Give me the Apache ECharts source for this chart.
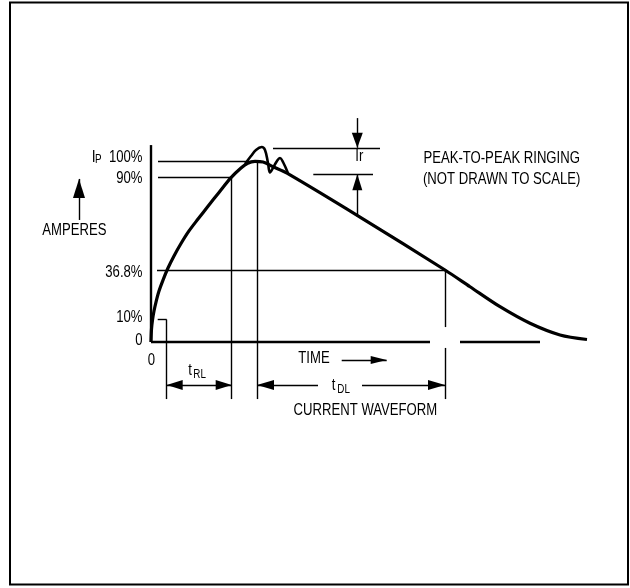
<!DOCTYPE html>
<html>
<head>
<meta charset="utf-8">
<title>Current waveform</title>
<script src="https://cdn.jsdelivr.net/npm/echarts@6/dist/echarts.min.js"></script>
<style>
  html, body { margin: 0; padding: 0; background: #fff; }
  #main { width: 630px; height: 588px; }
</style>
</head>
<body>
<div id="main"></div>
<script>
// time in arbitrary units, current as drawn height (100 = peak)
const curveT = [0, 0.25, 0.75, 1.5, 2.5, 4, 6, 8.5, 11.5, 15, 19, 23.5, 28.5, 34, 40, 45, 48.35, 52, 56, 61, 68, 104.5, 147, 159.5, 174.5, 189.5, 204.5, 218];
const curveI = [0, 7.2, 12.2, 17.2, 22.2, 28.3, 34.4, 41.1, 47.8, 54.7, 61.7, 68.3, 75.4, 83.1, 91.3, 96.7, 99.3, 100.3, 100, 97.4, 93.8, 69.4, 40, 30.7, 19.6, 10.4, 3.9, 1.4];

// ringing on top of the peak
const ringT = [47, 50, 52.5, 55.35, 57, 58.5, 59.5, 61, 63, 64.5, 66, 68.5];
const ringI = [98.9, 103.3, 106.7, 108.3, 106.7, 99.4, 94.2, 96.7, 100.6, 102.2, 100, 93.8];

// level marks on the current axis (drawn height) and their labels
const levelY = [0, 12.5, 39.7, 91.7, 100.3];
const levelLabels = ['0', '10%', '36.8%', '90%', '100%'];
const levelLabelDy = [-1, -2, 2, 1.5, -4];

// key times
const t10 = 7.85, t90 = 40.35, tPeak = 53, tDecay = 147;
const timeAxisEnd = 194.5, timeGap = [139.5, 154.5];
const yAxisTop = 109.4;
const ringTop = 107.9, ringBottom = 93.2, ringX = 103.15;
const dimBottom = -31.7, dimY = -23.9;

const FONT = "'Liberation Sans', Arial, sans-serif";
const NARROW = 0.82;

const seg = (a, b) => [{ coord: a }, { coord: b }];

const guideLines = [
  seg([3.5, levelY[4]], [tPeak, levelY[4]]),
  seg([3.5, levelY[3]], [t90, levelY[3]]),
  seg([3, levelY[2]], [tDecay, levelY[2]]),
  seg([3.35, levelY[1]], [t10, levelY[1]]),
  seg([t10, levelY[1]], [t10, dimBottom]),
  seg([t90, levelY[3]], [t90, dimBottom]),
  seg([tPeak, levelY[4]], [tPeak, dimBottom]),
  seg([tDecay, levelY[2]], [tDecay, 8.3]),
  seg([tDecay, -3.3], [tDecay, dimBottom]),
  seg([61, ringTop], [114.5, ringTop]),
  seg([81.15, ringBottom], [111, ringBottom])
];

const axisLines = [
  seg([0, 0], [0, yAxisTop]),
  seg([0, 0], [timeGap[0], 0]),
  seg([timeGap[1], 0], [timeAxisEnd, 0])
];

function arrow(a, b, size, both) {
  const head = { symbol: 'triangle', symbolSize: size, symbolOffset: [0, '50%'] };
  const none = { symbol: 'none' };
  return [Object.assign({ coord: a }, both ? head : none), Object.assign({ coord: b }, head)];
}

const arrows = [
  arrow([-36, 67.8], [-36, 90.6], [12, 19]),
  arrow([ringX, 124.4], [ringX, ringTop], [11, 15]),
  arrow([ringX, 69.6], [ringX, ringBottom], [10, 16]),
  arrow([t10, dimY], [t90, dimY], [10, 16], true),
  arrow([83.5, dimY], [tPeak, dimY], [10, 17]),
  arrow([105.5, dimY], [tDecay, dimY], [10, 17]),
  arrow([95.35, -10], [117.85, -10], [8, 16])
];

const notes = [
  { text: 'AMPERES', x: -38.35, y: 62.1, align: 'center' },
  { text: 'I', x: -29.65, y: 102.6, align: 'left', size: 17 },
  { text: 'P', x: -28, y: 101.1, align: 'left', size: 12 },
  { text: '0', x: 0.15, y: -10.3, align: 'center' },
  { text: 't', x: 18.65, y: -16, align: 'left' },
  { text: 'RL', x: 21.15, y: -18.3, align: 'left', size: 12 },
  { text: 'TIME', x: 81.5, y: -9.4, align: 'center' },
  { text: 't', x: 90.35, y: -24.1, align: 'left' },
  { text: 'DL', x: 93.15, y: -26.4, align: 'left', size: 12 },
  { text: 'CURRENT WAVEFORM', x: 107.2, y: -38.3, align: 'center' },
  { text: 'Ir', x: 104.15, y: 103.2, align: 'center' },
  { text: 'PEAK-TO-PEAK RINGING', x: 136.2, y: 101.7, align: 'left' },
  { text: '(NOT DRAWN TO SCALE)', x: 136, y: 90, align: 'left' }
];

const chart = echarts.init(document.getElementById('main'));

const markBase = {
  silent: true,
  animation: false,
  label: { show: false },
  emphasis: { disabled: true }
};

chart.setOption({
  animation: false,
  backgroundColor: '#fff',
  grid: { left: 1, right: 1, top: 0, bottom: 3 },
  xAxis: { type: 'value', min: -75, max: 239, show: false },
  yAxis: { type: 'value', min: -135, max: 190, show: false },
  series: [
    {
      name: 'guides',
      type: 'line',
      data: [],
      markLine: Object.assign({}, markBase, {
        symbol: ['none', 'none'],
        lineStyle: { color: '#000', width: 1.4, type: 'solid' },
        data: guideLines
      })
    },
    {
      name: 'axes',
      type: 'line',
      data: [],
      markLine: Object.assign({}, markBase, {
        symbol: ['none', 'none'],
        lineStyle: { color: '#000', width: 2.4, type: 'solid' },
        data: axisLines
      })
    },
    {
      name: 'arrows',
      type: 'line',
      data: [],
      markLine: Object.assign({}, markBase, {
        symbol: ['none', 'none'],
        lineStyle: { color: '#000', width: 1.4, type: 'solid' },
        itemStyle: { color: '#000' },
        data: arrows
      })
    },
    {
      name: 'current',
      type: 'line',
      data: curveT.map((t, i) => [t, curveI[i]]),
      smooth: 0.3,
      showSymbol: false,
      symbol: 'none',
      silent: true,
      lineStyle: { color: '#000', width: 3.2 }
    },
    {
      name: 'ringing',
      type: 'line',
      data: ringT.map((t, i) => [t, ringI[i]]),
      smooth: 0.4,
      showSymbol: false,
      symbol: 'none',
      silent: true,
      lineStyle: { color: '#000', width: 2.6 }
    }
  ]
});

// texts: placed through the chart's own scales, drawn narrow like the original
function textEl(text, pos, align, size, dy) {
  const p = chart.convertToPixel({ gridIndex: 0 }, pos);
  return {
    type: 'text',
    x: p[0],
    y: p[1] + (dy || 0),
    scaleX: NARROW,
    silent: true,
    style: {
      text: text,
      x: 0,
      y: 0,
      fill: '#000',
      font: (size || 16) + 'px ' + FONT,
      textAlign: align,
      textVerticalAlign: 'middle'
    }
  };
}

const graphics = [{
  type: 'rect',
  shape: { x: 10, y: 2.5, width: 618, height: 582 },
  style: { fill: 'none', stroke: '#000', lineWidth: 2 },
  silent: true
}];
levelY.forEach((y, i) => {
  graphics.push(textEl(levelLabels[i], [-4.25, y], 'right', 16, levelLabelDy[i]));
});
notes.forEach(n => {
  graphics.push(textEl(n.text, [n.x, n.y], n.align, n.size));
});

chart.setOption({ graphic: graphics });
</script>
</body>
</html>
